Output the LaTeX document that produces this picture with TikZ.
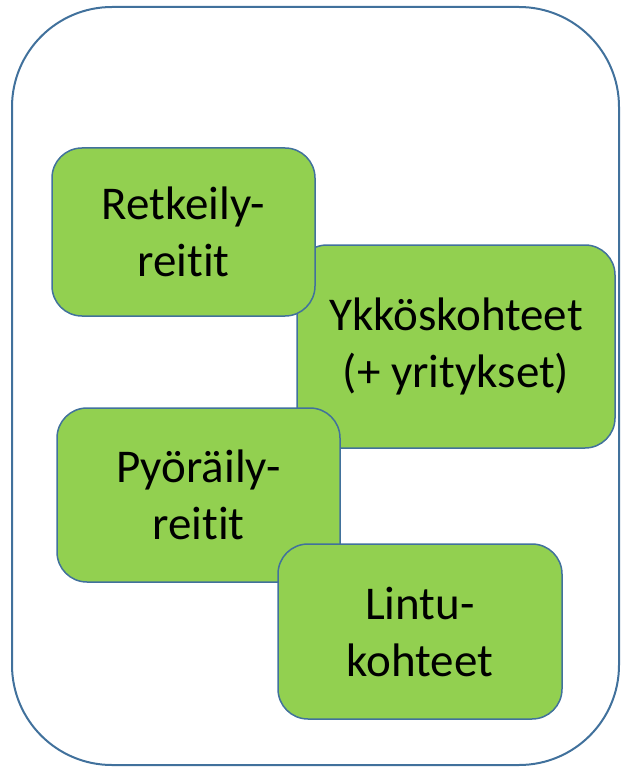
\documentclass[tikz,border=0pt]{standalone}
\usepackage{fontspec}
\setmainfont{Carlito}[Ligatures=NoCommon]
\definecolor{boxgreen}{HTML}{92D050}
\definecolor{boxblue}{HTML}{41719C}

\begin{document}
\begin{tikzpicture}[x=1pt,y=-1pt,font=\fontsize{47}{57}\selectfont]
    \tikzstyle{panel}=[draw=boxblue,line width=2pt,rounded corners=100pt]
    \tikzstyle{topic}=[draw=boxblue,fill=boxgreen,line width=1.5pt,rounded corners=30pt,align=center,inner sep=0pt]

    \useasboundingbox (0,0) rectangle (621,767);

    \node[panel,minimum width=607pt,minimum height=758pt] (frame) at (315.5,386) {};

    % order matters: later boxes lie on top
    \node[topic,minimum width=318pt,minimum height=203pt] (ykkos) at (456,346.5) {Ykköskohteet\\(+ yritykset)};
    \node[topic,minimum width=263pt,minimum height=168pt] (retkeily) at (183.5,232) {Retkeily-\\reitit};
    \node[topic,minimum width=283pt,minimum height=174pt] (pyoraily) at (198.5,495) {Pyöräily-\\reitit};
    \node[topic,minimum width=284pt,minimum height=175pt] (lintu) at (420,631.5) {Lintu-\\kohteet};
\end{tikzpicture}
\end{document}
